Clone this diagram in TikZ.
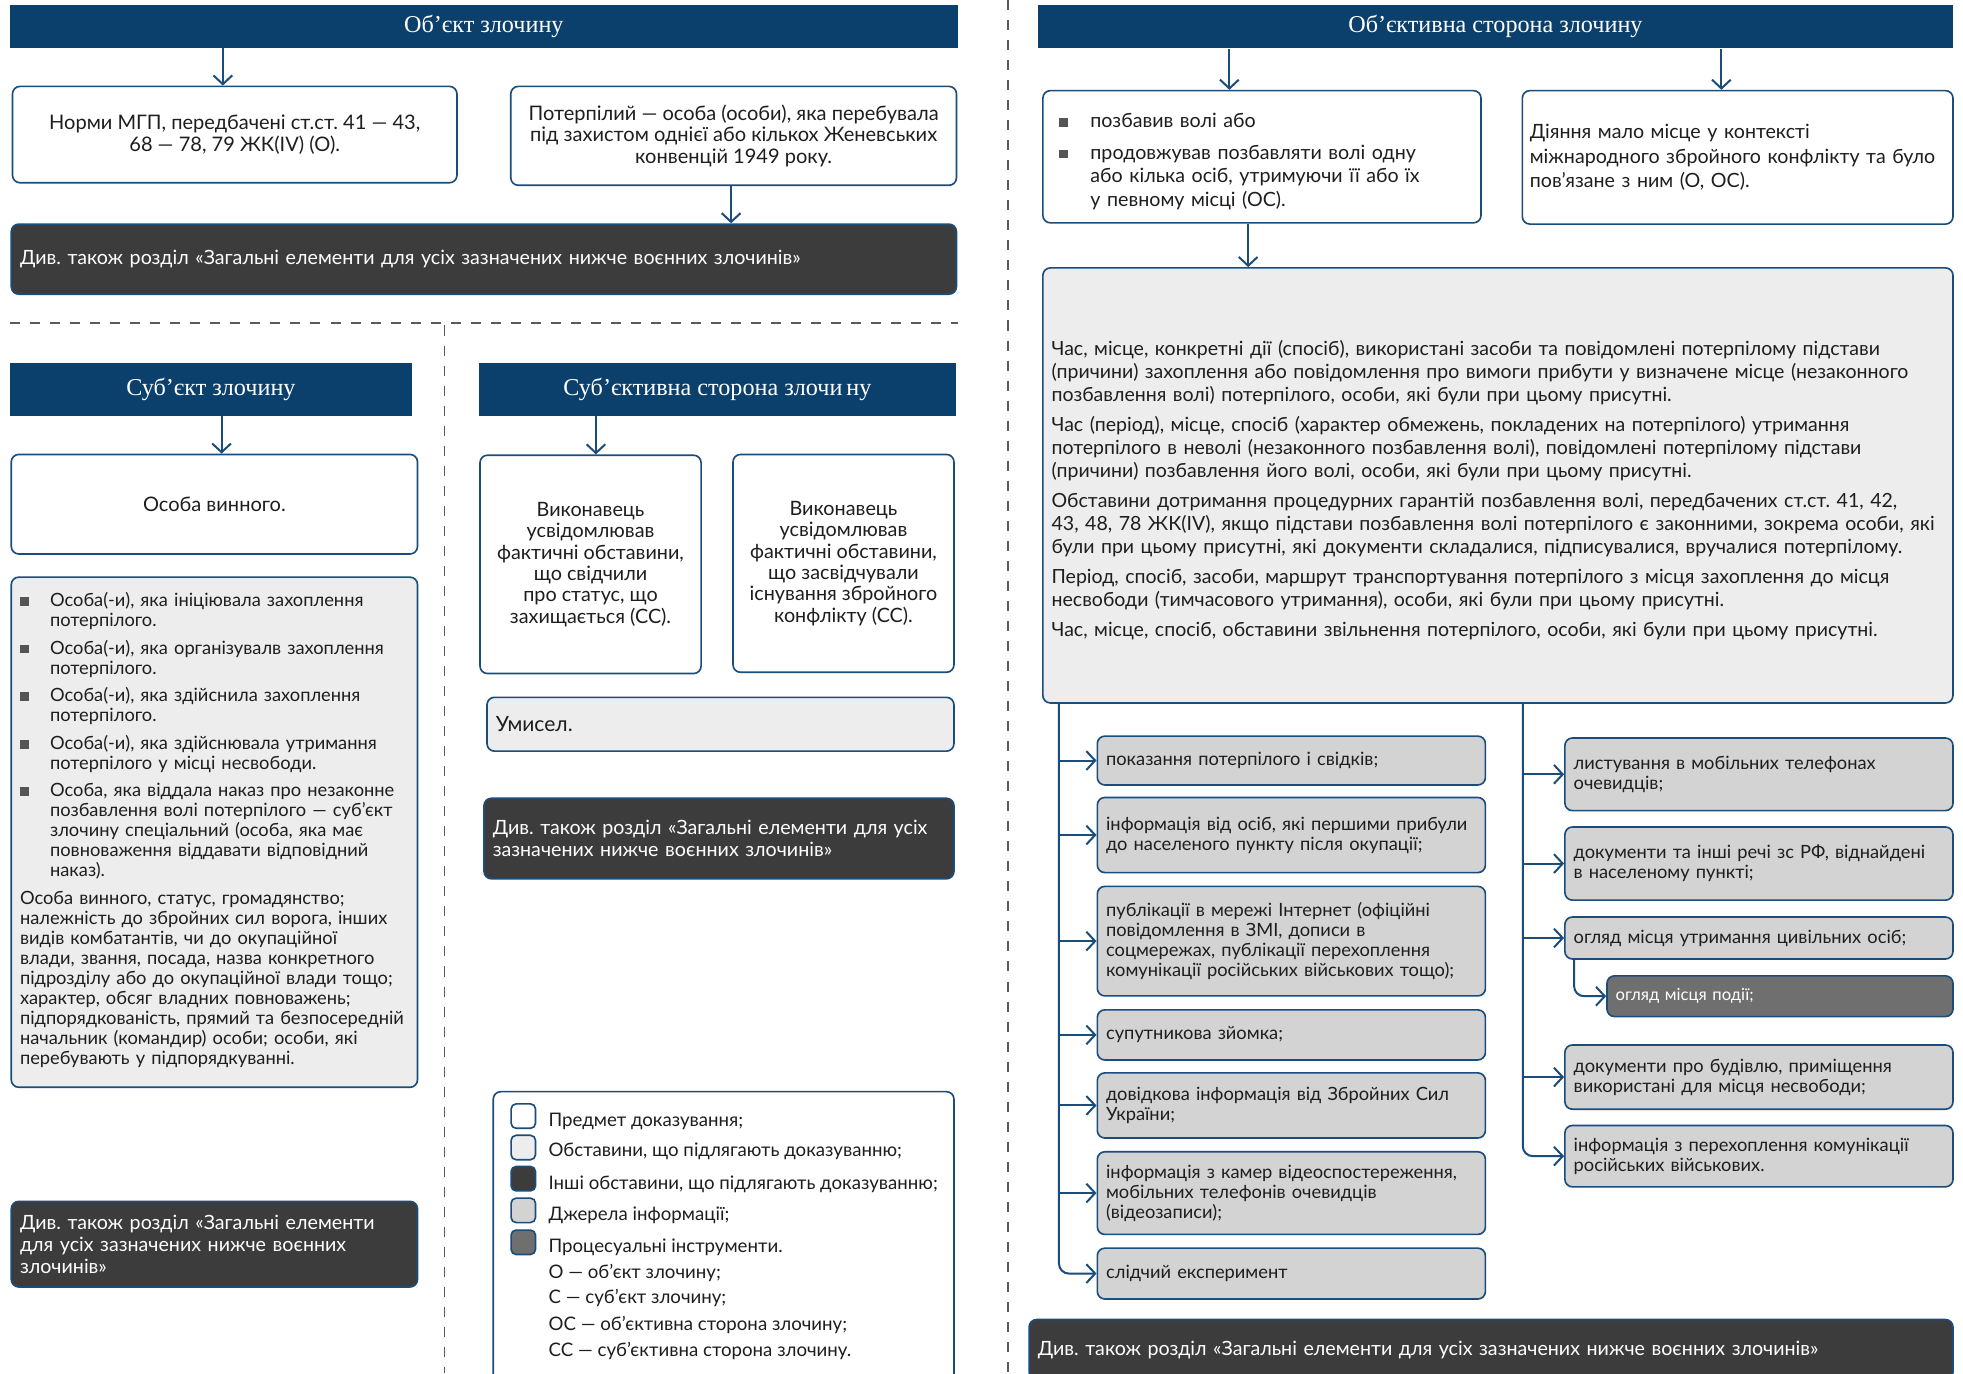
\documentclass[tikz,border=0pt]{standalone}
\usepackage{fontspec}
\setmainfont{Lato}
\newfontfamily\titlefont{Liberation Serif}
\usetikzlibrary{arrows.meta}
\frenchspacing
\definecolor{navy}{HTML}{0C406C}
\definecolor{edge}{HTML}{1A4D7C}
\definecolor{lightgrey}{HTML}{EDEDED}
\definecolor{srcgrey}{HTML}{D3D3D3}
\definecolor{darkgrey}{HTML}{3C3C3C}
\definecolor{procgrey}{HTML}{6F6F6F}
\definecolor{bulletgrey}{HTML}{555555}
\definecolor{textdark}{HTML}{1E1E1E}
\definecolor{sepgrey}{HTML}{5A5A5A}

\newcommand\fs[2]{\fontsize{#1}{#2}\selectfont}
\newcommand\bsq{\textcolor{bulletgrey}{\rule[0.5pt]{7pt}{7pt}}}
\newcommand\bitem[2][24pt]{\par\hangindent=#1\hangafter=1\noindent\makebox[#1][l]{\bsq}#2\par}

\tikzset{
  titlebar/.style={fill=navy, text=white, font=\titlefont\fs{19.3}{23}, inner sep=0pt},
  basebox/.style={draw=edge, line width=1.3pt, rounded corners=6pt, inner xsep=7pt, inner ysep=0pt, text=textdark, font=\fs{16}{17}},
  whitebox/.style={basebox, fill=white},
  lightbox/.style={basebox, fill=lightgrey},
  darkbox/.style={basebox, fill=darkgrey, text=white, font=\fs{15.7}{17.4}},
  srcbox/.style={basebox, fill=srcgrey, font=\fs{14.6}{16}, text width=296pt, align=left},
  procbox/.style={basebox, fill=procgrey, text=white, font=\fs{13.3}{16}},
  arr/.style={draw=edge, line width=1.6pt, -{Straight Barb[length=7pt,width=15pt,line width=1.6pt]}},
  sepline/.style={draw=sepgrey, line width=1.4pt, dash pattern=on 8pt off 8pt},
  legtext/.style={anchor=west, inner sep=0pt, text=textdark, font=\fs{14.9}{17}},
}

\begin{document}
\begin{tikzpicture}[x=1pt, y=-1pt]
    \path[use as bounding box, fill=white] (0,0) rectangle (1568,1097);
    \clip (0,0) rectangle (1568,1097); % page edge cuts the lowest boxes

    \draw[sepline] (8,258) -- (765,258);
    \draw[sepline] (355,260) -- (355,1097);
    \draw[sepline] (805,0) -- (805,1097);

    % object
    \node[titlebar, minimum width=757pt, minimum height=34pt] (obj) at (386.5,21) {Об’єкт злочину};
    \node[whitebox, minimum width=355pt, minimum height=77pt, align=center] (norms) at (187.5,107.5)
        {Норми МГП, передбачені ст.ст. 41 — 43,\\68 — 78, 79 ЖК(IV) (О).};
    \node[whitebox, minimum width=356pt, minimum height=79pt, align=center] (victim) at (586,108.5)
        {Потерпілий — особа (особи), яка перебувала\\під захистом однієї або кількох Женевських\\конвенцій 1949 року.};
    \node[darkbox, minimum height=56pt, text width=741pt, align=left] (seeO) at (386.5,207)
        {Див. також розділ «Загальні елементи для усіх зазначених нижче воєнних злочинів»};

    % subject
    \node[titlebar, minimum width=321pt, minimum height=42pt] (subj) at (168.5,311) {Суб’єкт злочину};
    \node[whitebox, minimum width=324.5pt, minimum height=79.5pt] (guilty) at (171.25,402.75) {Особа винного.};
    \node[lightbox, minimum height=407.5pt, text width=310.5pt, align=left, font=\fs{14.6}{16}] (persons) at (171.25,664.75) {%
        \bitem{Особа(-и), яка ініціювала захоплення\newline потерпілого.}\vspace{6pt}%
        \bitem{Особа(-и), яка організувалв захоплення\newline потерпілого.}\vspace{6pt}%
        \bitem{Особа(-и), яка здійснила захоплення\newline потерпілого.}\vspace{6pt}%
        \bitem{Особа(-и), яка здійснювала утримання\newline потерпілого у місці несвободи.}\vspace{6pt}%
        \bitem{Особа, яка віддала наказ про незаконне\newline позбавлення волі потерпілого — суб’єкт\newline злочину спеціальний (особа, яка має\newline повноваження віддавати відповідний\newline наказ).}\vspace{6pt}%
        \noindent Особа винного, статус, громадянство;\\належність до збройних сил ворога, інших\\видів комбатантів, чи до окупаційної\\влади, звання, посада, назва конкретного\\підрозділу або до окупаційної влади тощо;\\характер, обсяг владних повноважень;\\підпорядкованість, прямий та безпосередній\\начальник (командир) особи; особи, які\\перебувають у підпорядкуванні.\par\vspace{8pt}};
    \node[darkbox, minimum height=68.4pt, text width=310.5pt, align=left] (seeS) at (171.25,993.8)
        {Див. також розділ «Загальні елементи\\для усіх зазначених нижче воєнних\\злочинів»};

    % subjective side
    \node[titlebar, minimum width=381pt, minimum height=42pt] (mens) at (573.1,311) {Суб’єктивна сторона злочи\,ну};
    \node[whitebox, minimum width=176.6pt, minimum height=174.4pt, align=center, font=\fs{15.8}{17.1}] (aware1) at (471.7,450.8)
        {Виконавець\\усвідомлював\\фактичні обставини,\\що свідчили\\про статус, що\\захищається (СС).};
    \node[whitebox, minimum width=176.5pt, minimum height=174pt, align=center, font=\fs{15.8}{17.1}] (aware2) at (673.75,450)
        {Виконавець\\усвідомлював\\фактичні обставини,\\що засвідчували\\існування збройного\\конфлікту (СС).};
    \node[lightbox, minimum height=43pt, text width=359pt, align=left, font=\fs{16.8}{18}] (intent) at (575.5,578.5) {Умисел.};
    \node[darkbox, minimum height=64.4pt, text width=361.4pt, align=left] (seeM) at (574.3,669.8)
        {Див. також розділ «Загальні елементи для усіх\\зазначених нижче воєнних злочинів»};

    % legend
    \node[whitebox, minimum width=368pt, minimum height=238pt] (legend) at (578,991) {};
    \foreach \s/\y [count=\i] in {whitebox/891.5, lightbox/916.6, darkbox/941.5, srcbox/966.8, procbox/992.3}
        \node[\s, text width={}, minimum width=19.5pt, minimum height=19.5pt, inner sep=0pt, rounded corners=4pt] (sw\i) at (418,\y) {};
    \foreach \t/\y [count=\i] in {{Предмет доказування;}/896, {Обставини, що підлягають доказуванню;}/920,
        {Інші обставини, що підлягають доказуванню;}/946, {Джерела інформації;}/970.7,
        {Процесуальні інструменти.}/996, {О — об’єкт злочину;}/1017, {С — суб’єкт злочину;}/1037,
        {ОС — об’єктивна сторона злочину;}/1058.6, {СС — суб’єктивна сторона злочину.}/1079}
        \node[legtext] (key\i) at (438,\y) {\t};

    % objective side
    \node[titlebar, minimum width=731pt, minimum height=34.6pt] (act) at (1194.5,21.3) {Об’єктивна сторона злочину};
    \node[whitebox, minimum height=105.6pt, inner xsep=13pt, text width=324pt, align=left, font=\fs{15.7}{19}] (deprive) at (1008,125.2) {%
        \bitem[25pt]{позбавив волі або}\vspace{6.5pt}%
        \bitem[25pt]{продовжував позбавляти волі одну\newline або кілька осіб, утримуючи її або їх\newline у певному місці (ОС).}};
    \node[whitebox, minimum height=106.6pt, inner xsep=6pt, text width=332pt, align=left, font=\fs{15.7}{19.5}] (context) at (1388,125.7)
        {Діяння мало місце у контексті\\міжнародного збройного конфлікту та було\\пов’язане з ним (О, ОС).};
    \node[lightbox, minimum height=347.5pt, text width=713pt, align=left, font=\fs{15.6}{18.2}] (facts) at (1196.5,387.75)
        {Час, місце, конкретні дії (спосіб), використані засоби та повідомлені потерпілому підстави\\(причини) захоплення або повідомлення про вимоги прибути у визначене місце (незаконного\\позбавлення волі) потерпілого, особи, які були при цьому присутні.\\[6pt]
        Час (період), місце, спосіб (характер обмежень, покладених на потерпілого) утримання\\потерпілого в неволі (незаконного позбавлення волі), повідомлені потерпілому підстави\\(причини) позбавлення його волі, особи, які були при цьому присутні.\\[6pt]
        Обставини дотримання процедурних гарантій позбавлення волі, передбачених ст.ст. 41, 42,\\43, 48, 78 ЖК(IV), якщо підстави позбавлення волі потерпілого є законними, зокрема особи, які\\були при цьому присутні, які документи складалися, підписувалися, вручалися потерпілому.\\[6pt]
        Період, спосіб, засоби, маршрут транспортування потерпілого з місця захоплення до місця\\несвободи (тимчасового утримання), особи, які були при цьому присутні.\\[6pt]
        Час, місце, спосіб, обставини звільнення потерпілого, особи, які були при цьому присутні.\par\vspace{-8pt}};

    % sources of information
    \node[srcbox, minimum height=39pt] (src1) at (1031.5,607.5) {показання потерпілого і свідків;};
    \node[srcbox, minimum height=60pt] (src2) at (1031.5,667) {інформація від осіб, які першими прибули\\до населеного пункту після окупації;};
    \node[srcbox, minimum height=87.5pt] (src3) at (1031.5,751.75) {публікації в мережі Інтернет (офіційні\\повідомлення в ЗМІ, дописи в\\соцмережах, публікації перехоплення\\комунікації російських військових тощо);};
    \node[srcbox, minimum height=40pt] (src4) at (1031.5,826.65) {супутникова зйомка;};
    \node[srcbox, minimum height=52pt] (src5) at (1031.5,883) {довідкова інформація від Збройних Сил\\України;};
    \node[srcbox, minimum height=66pt] (src6) at (1031.5,953) {інформація з камер відеоспостереження,\\мобільних телефонів очевидців\\(відеозаписи);};
    \node[srcbox, minimum height=40.6pt] (src7) at (1031.5,1017.3) {слідчий експеримент};

    \node[srcbox, minimum height=58pt] (doc1) at (1405,618.5) {листування в мобільних телефонах\\очевидців;};
    \node[srcbox, minimum height=58.4pt] (doc2) at (1405,689.8) {документи та інші речі зс РФ, віднайдені\\в населеному пункті;};
    \node[srcbox, minimum height=33.5pt] (doc3) at (1405,749.25) {огляд місця утримання цивільних осіб;};
    \node[procbox, minimum height=32.5pt, text width=262.4pt, align=left] (scene) at (1421.8,795.75) {огляд місця події;};
    \node[srcbox, minimum height=51.3pt] (doc4) at (1405,860.35) {документи про будівлю, приміщення\\використані для місця несвободи;};
    \node[srcbox, minimum height=49pt] (doc5) at (1405,923.5) {інформація з перехоплення комунікації\\російських військових.};

    \node[darkbox, minimum height=48pt, text width=724pt, align=left] (seeA) at (1191,1078)
        {Див. також розділ «Загальні елементи для усіх зазначених нижче воєнних злочинів»};

    % arrows
    \coordinate (a1) at ([xshift=-9.5pt]norms.north);
    \draw[arr] (a1 |- obj.south) -- (a1);
    \coordinate (a2) at ([xshift=-2pt]victim.south);
    \draw[arr] (a2) -- (a2 |- seeO.north);
    \coordinate (a3) at ([xshift=5.75pt]guilty.north);
    \draw[arr] (a3 |- subj.south) -- (a3);
    \coordinate (a4) at ([xshift=4.3pt]aware1.north);
    \draw[arr] (a4 |- mens.south) -- (a4);
    \coordinate (a5) at ([xshift=-26pt]deprive.north);
    \draw[arr] (a5 |- act.south) -- (a5);
    \coordinate (a6) at ([xshift=-13pt]context.north);
    \draw[arr] (a6 |- act.south) -- (a6);
    \coordinate (a7) at ([xshift=-11pt]deprive.south);
    \draw[arr] (a7) -- (a7 |- facts.north);

    \coordinate (lt) at ([xshift=13.5pt]facts.south west);
    \coordinate (rt) at ([xshift=384pt]facts.south west);
    \foreach \k in {1,...,6}
        \draw[arr] (lt) |- (src\k.west);
    \draw[arr, rounded corners=8pt] (lt) |- (src7.west);
    \foreach \k in {1,...,4}
        \draw[arr] (rt) |- (doc\k.west);
    \draw[arr, rounded corners=8pt] (rt) |- (doc5.west);
    \coordinate (sub) at ([xshift=8pt]doc3.south west);
    \draw[arr, rounded corners=8pt] (sub) |- (scene.west);
\end{tikzpicture}
\end{document}
